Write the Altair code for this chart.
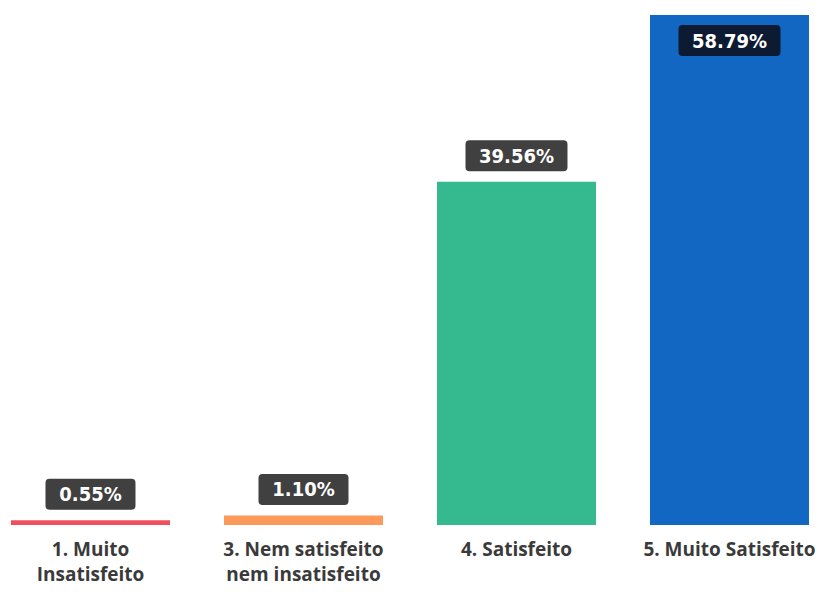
import altair as alt
import pandas as pd

categories = [
    "1. Muito\nInsatisfeito",
    "3. Nem satisfeito\nnem insatisfeito",
    "4. Satisfeito",
    "5. Muito Satisfeito",
]
values = [0.55, 1.10, 39.56, 58.79]
colors = ["#F0505E", "#FD995A", "#35BA8F", "#1167C1"]

df = pd.DataFrame({"cat": categories, "value": values})


def box_path(w, h, r, scale):
    hw, hh, rr = w / 2 / scale, h / 2 / scale, r / scale
    return (
        f"M {-hw + rr},{-hh} L {hw - rr},{-hh} Q {hw},{-hh} {hw},{-hh + rr} "
        f"L {hw},{hh - rr} Q {hw},{hh} {hw - rr},{hh} "
        f"L {-hw + rr},{hh} Q {-hw},{hh} {-hw},{hh - rr} "
        f"L {-hw},{-hh + rr} Q {-hw},{-hh} {-hw + rr},{-hh} Z"
    )


BOXW = 102
path5 = box_path(90, 31, 4, BOXW / 2)
path6 = box_path(102, 31, 4, BOXW / 2)

xscale = alt.Scale(paddingInner=0.2535, paddingOuter=0.054, align=0.13)
x = alt.X(
    "cat:N",
    sort=categories,
    scale=xscale,
    axis=alt.Axis(
        title=None,
        labelAngle=0,
        domain=False,
        ticks=False,
        labelPadding=15,
        labelFont="Open Sans",
        labelFontWeight="bold",
        labelFontSize=19,
        labelColor="#3A3A3A",
        labelLineHeight=25,
        labelLimit=0,
        labelExpr="split(datum.label, '\\n')",
        labelBaseline="top",
    ),
)
y = alt.Y("value:Q", scale=alt.Scale(domain=[0, max(values)], nice=False, zero=True), axis=None)

base = alt.Chart(df).transform_joinaggregate(maxv="max(value)").transform_calculate(
    label="format(datum.value, '.2f') + '%'",
    nlen="length(format(datum.value, '.2f') + '%') > 5 ? 'L' : 'S'",
    inside="datum.value == datum.maxv",
)

bars = base.mark_bar().encode(
    x=x,
    y=y,
    color=alt.Color("cat:N", sort=categories, scale=alt.Scale(domain=categories, range=colors), legend=None),
)

shape = alt.Shape("nlen:N", scale=alt.Scale(domain=["S", "L"], range=[path5, path6]), legend=None)

out_box = base.transform_filter("!datum.inside").mark_point(
    filled=True, opacity=1, size=BOXW * BOXW, color="#404040", strokeWidth=0, yOffset=-26
).encode(x=x, y=y, shape=shape)
out_txt = base.transform_filter("!datum.inside").mark_text(
    font="DejaVu Sans Condensed", fontWeight="bold", fontSize=20, color="white",
    baseline="middle", yOffset=-25
).encode(x=x, y=y, text="label:N")

in_box = base.transform_filter("datum.inside").mark_point(
    filled=True, opacity=1, size=BOXW * BOXW, color="#0C1B31", strokeWidth=0, yOffset=25.5
).encode(x=x, y=y, shape=shape)
in_txt = base.transform_filter("datum.inside").mark_text(
    font="DejaVu Sans Condensed", fontWeight="bold", fontSize=20, color="white",
    baseline="middle", yOffset=26.5
).encode(x=x, y=y, text="label:N")

chart = (
    alt.layer(bars, out_box, out_txt, in_box, in_txt)
    .properties(
        width=821,
        height=510,
        autosize=alt.AutoSizeParams(type="none"),
        padding={"left": 0, "right": 0, "top": 7, "bottom": 61},
    )
    .configure_view(stroke=None)
)

chart.save("out.html", embed_options={"renderer": "svg", "actions": False})
